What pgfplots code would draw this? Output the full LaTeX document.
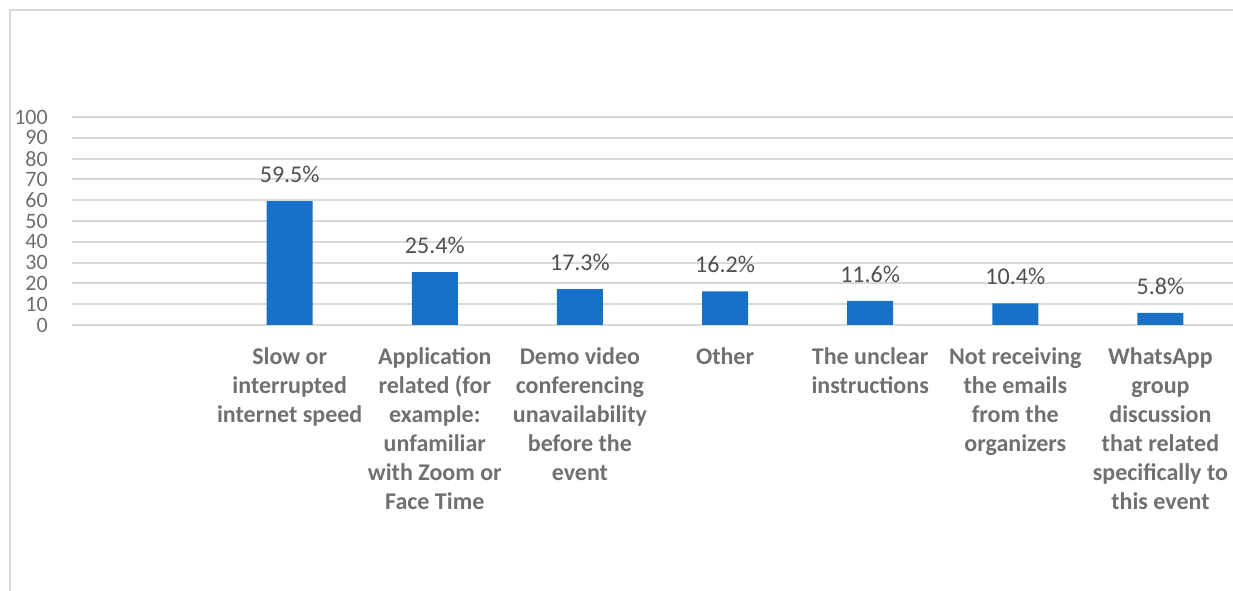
\documentclass[border=0pt]{standalone}
\usepackage{pgfplots}
\pgfplotsset{compat=1.18}
\usepackage{fontspec}
\setmainfont{Carlito}
\definecolor{barblue}{RGB}{24,112,199}
\definecolor{gridgray}{RGB}{217,217,217}
\definecolor{ticktext}{RGB}{110,110,110}
\definecolor{cattext}{RGB}{112,112,112}
\definecolor{datatext}{RGB}{80,80,80}
\begin{document}
\begin{tikzpicture}
\useasboundingbox (0pt,0pt) rectangle (924.75pt,-443.25pt);
\draw[gridgray, line width=1.5pt] (7.5pt,-443.25pt) -- (7.5pt,-7.5pt) -- (924.75pt,-7.5pt);
\begin{axis}[
  at={(54pt,-243.75pt)}, anchor=south west,
  scale only axis,
  width=870.75pt, height=156pt,
  xmin=-0.5, xmax=7.5, ymin=0, ymax=100,
  axis line style={draw=none},
  ytick={0,10,...,100},
  ymajorgrids, grid style={gridgray, line width=1.5pt},
  major tick length=0pt,
  xtick={0,1,2,3,4,5,6,7},
  xticklabels={{},
    {Slow or\\interrupted\\internet speed},
    {Application\\related (for\\example:\\unfamiliar\\with Zoom or\\Face Time},
    {Demo video\\conferencing\\unavailability\\before the\\event},
    {Other},
    {The unclear\\instructions},
    {Not receiving\\the emails\\from the\\organizers},
    {WhatsApp\\group\\discussion\\that related\\specifically to\\this event}},
  xticklabel style={anchor=north, inner sep=0pt, yshift=-17pt, align=center,
    font=\fontsize{18}{21.75}\selectfont\bfseries, text=cattext},
  yticklabel style={anchor=east, inner sep=0pt, xshift=-18pt, font=\fontsize{16.5}{16.5}\selectfont, text=ticktext},
  /pgf/number format/assume math mode=true,
  clip=false,
]
\addplot[ybar, bar width=34.5pt, fill=barblue, draw=none,
  nodes near coords={\pgfmathprintnumber[fixed,precision=1,fixed zerofill]{\pgfplotspointmeta}\%},
  every node near coord/.append style={inner sep=0pt, anchor=south, yshift=13.5pt,
    font=\fontsize{18}{18}\selectfont, text=datatext}]
  coordinates {(1,59.5) (2,25.4) (3,17.3) (4,16.2) (5,11.6) (6,10.4) (7,5.8)};
\end{axis}
\end{tikzpicture}
\end{document}
